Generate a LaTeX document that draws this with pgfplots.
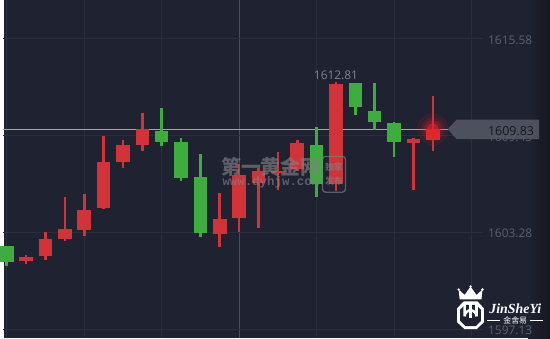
\documentclass[border=0pt]{standalone}
\usepackage{pgfplots}
\pgfplotsset{compat=1.18}
\usepackage{pgfplotstable}
\usepackage{fontspec}
\setmainfont{Open Sans}
\newfontfamily\cjk{Noto Sans CJK SC}
\newfontfamily\monof{Liberation Mono}
\newfontfamily\seriff{Liberation Serif}
\definecolor{bg}{RGB}{31,34,48}
\definecolor{bgdark}{RGB}{20,22,32}
\definecolor{gridc}{RGB}{42,46,60}
\definecolor{vlinec}{RGB}{74,78,92}
\definecolor{pricel}{RGB}{165,165,170}
\definecolor{cred}{RGB}{209,51,56}
\definecolor{cgreen}{RGB}{61,174,62}
\definecolor{glowc}{RGB}{240,30,40}
\definecolor{lblc}{RGB}{92,96,112}
\definecolor{hic}{RGB}{128,130,140}
\definecolor{tagc}{RGB}{84,88,101}
\definecolor{tagtext}{RGB}{22,24,30}
\definecolor{wmc}{RGB}{128,128,132}

% index open high low close
\pgfplotstableread{
i open high low close
1 1601.46 1601.88 1601.27 1601.75
2 1601.77 1603.33 1601.52 1602.89
3 1602.90 1605.53 1602.72 1603.51
4 1603.47 1605.72 1603.09 1604.71
5 1604.86 1609.43 1604.79 1607.73
6 1607.75 1609.12 1607.37 1608.86
7 1608.86 1610.88 1608.44 1609.85
11 1603.16 1605.78 1602.34 1604.14
12 1604.23 1607.61 1603.33 1606.91
13 1606.45 1607.35 1603.56 1607.18
14 1607.04 1608.36 1605.99 1607.16
15 1607.29 1609.12 1607.16 1608.93
17 1606.35 1612.81 1605.92 1612.70
21 1608.95 1609.30 1605.99 1609.24
22 1609.13 1611.95 1608.44 1609.83
}\redtab

\pgfplotstableread{
i open high low close
0 1602.45 1602.45 1601.14 1601.44
8 1609.74 1611.19 1608.76 1609.01
9 1608.99 1609.30 1606.55 1606.72
10 1606.79 1608.23 1603.03 1603.28
16 1608.86 1610.00 1605.55 1606.35
18 1612.77 1612.77 1610.71 1611.27
19 1611.00 1612.77 1609.76 1610.27
20 1610.25 1610.31 1608.06 1609.01
}\greentab

\pgfplotsset{
  candle/.style={forget plot, only marks, mark=none, mark size=0pt,
    mark options={draw=none, fill=none},
    error bars/y dir=both, error bars/y explicit, error bars/error mark=none},
  glow/.style={forget plot, only marks, mark=*, color=glowc, line width=0pt,
    mark options={draw opacity=0, fill=glowc, fill opacity=#1}},
}

\begin{document}
\begin{tikzpicture}
\fill[bg] (0,0) rectangle (550bp,340bp);
\shade[left color=bg, right color=bgdark] (528bp,0) rectangle (550bp,340bp);
\begin{axis}[at={(0,0)}, anchor=south west, scale only axis,
  width=550bp, height=340bp,
  xmin=-0.153846, xmax=28.051282, ymin=1596.584, ymax=1617.994,
  hide axis, clip=false]
% grid
\draw[gridc, line width=1bp] (axis cs:0,1596.584) -- (axis cs:0,1617.994);
\draw[gridc, line width=1bp] (axis cs:4,1596.584) -- (axis cs:4,1617.994);
\draw[gridc, line width=1bp] (axis cs:8,1596.584) -- (axis cs:8,1617.994);
\draw[gridc, line width=1bp] (axis cs:16,1596.584) -- (axis cs:16,1617.994);
\draw[gridc, line width=1bp] (axis cs:20,1596.584) -- (axis cs:20,1617.994);
\draw[gridc, line width=1bp] (axis cs:24,1596.584) -- (axis cs:24,1617.994);
\draw[vlinec, line width=1bp] (axis cs:12,1596.584) -- (axis cs:12,1617.994);
\draw[gridc, line width=1bp] (axis cs:-0.2,1615.58) -- (axis cs:24.6,1615.58);
\draw[gridc, line width=1bp] (axis cs:-0.2,1609.43) -- (axis cs:24.6,1609.43);
\draw[gridc, line width=1bp] (axis cs:-0.2,1603.28) -- (axis cs:24.6,1603.28);
\draw[gridc, line width=1bp] (axis cs:-0.2,1597.13) -- (axis cs:24.6,1597.13);
% last price line
\addplot[forget plot, pricel, line width=0.9bp, mark=none] coordinates {(-0.2,1609.83) (22.77,1609.83)};
% wicks
\addplot[candle, error bars/error bar style={line width=2.6bp, draw=cred}]
  table[x=i, y expr={0.5*(\thisrow{high}+\thisrow{low})}, y error expr={0.5*(\thisrow{high}-\thisrow{low})}] {\redtab};
\addplot[candle, error bars/error bar style={line width=2.6bp, draw=cgreen}]
  table[x=i, y expr={0.5*(\thisrow{high}+\thisrow{low})}, y error expr={0.5*(\thisrow{high}-\thisrow{low})}] {\greentab};
% bodies
\addplot[candle, error bars/error bar style={line width=13.6bp, draw=cred}]
  table[x=i, y expr={0.5*(\thisrow{open}+\thisrow{close})}, y error expr={0.5*abs(\thisrow{open}-\thisrow{close})}] {\redtab};
\addplot[candle, error bars/error bar style={line width=13.6bp, draw=cgreen}]
  table[x=i, y expr={0.5*(\thisrow{open}+\thisrow{close})}, y error expr={0.5*abs(\thisrow{open}-\thisrow{close})}] {\greentab};
% glow on last candle
\addplot[glow=0.10, mark size=16bp] coordinates {(22,1609.83)};
\addplot[glow=0.14, mark size=12bp] coordinates {(22,1609.83)};
\addplot[glow=0.22, mark size=9bp] coordinates {(22,1609.83)};
\addplot[glow=0.55, mark size=6bp] coordinates {(22,1609.83)};
\end{axis}

\begin{scope}[x=1bp, y=-1bp, shift={(0bp,340bp)}]
\fontsize{12bp}{14bp}\selectfont
% axis labels
\node[lblc, anchor=west, inner sep=0] at (487.5,40) {1615.58};
\node[lblc, anchor=west, inner sep=0] at (487.5,138) {1609.43};
\node[lblc, anchor=west, inner sep=0] at (487.5,234.5) {1603.28};
\node[lblc, anchor=west, inner sep=0] at (487.5,332) {1597.13};
% price tag
\fill[tagc, fill opacity=0.88] (447,129.5) -- (456,120) -- (539,120) -- (539,139.5) -- (456,139.5) -- cycle;
\node[tagtext, anchor=west, inner sep=0, font={\fontsize{12.5bp}{14bp}\selectfont}] at (487.5,131) {1609.83};
% high label
\node[hic, inner sep=0] at (334.5,75.5) {1612.81};
% watermark
\begin{scope}[opacity=0.65]
\node[wmc, inner sep=0, font={\cjk\bfseries\fontsize{20bp}{20bp}\selectfont}] at (269,168) {第一黄金网};
\node[wmc, inner sep=0, font={\monof\bfseries\fontsize{12.5bp}{12.5bp}\selectfont}] at (269,183) {www.dyhjw.com};
\draw[wmc, line width=1.3bp, rounded corners=3bp] (321,157) rectangle (344,193);
\node[wmc, inner sep=0, font={\cjk\bfseries\fontsize{9bp}{9bp}\selectfont}] at (332.5,168) {独家};
\node[wmc, inner sep=0, font={\cjk\bfseries\fontsize{9bp}{9bp}\selectfont}] at (332.5,182) {发布};
\end{scope}
% logo
\fill[white] (459,301) -- (458,291) -- (464,296.5) -- (470,288) -- (476,296.5) -- (482,291) -- (481,301) -- cycle;
\fill[white] (458,291) circle (1.3) (470,288) circle (1.3) (482,291) circle (1.3);
\fill[white] (463,303) -- (477,303) -- (483.5,310) -- (483.5,324) -- (476,331) -- (464,331) -- (456.5,324) -- (456.5,310) -- cycle;
\fill[bg] (464.5,306.5) -- (475.5,306.5) -- (480.5,311.5) -- (480.5,322.5) -- (475,328) -- (465,328) -- (459.5,322.5) -- (459.5,311.5) -- cycle;
\draw[white, line width=2.6bp] (464,306) -- (464,318) arc[start angle=180, end angle=360, radius=6] -- (476,306);
\draw[white, line width=2.4bp] (470,304) -- (470,320);
\node[white, inner sep=0, font={\seriff\bfseries\itshape\fontsize{14bp}{14bp}\selectfont}] at (515,310) {JinSheYi};
\node[white, inner sep=0, font={\cjk\fontsize{8bp}{8bp}\selectfont}] at (515,322.5) {金舍易};
\draw[white, line width=0.8bp] (487,322.5) -- (500,322.5) (530,322.5) -- (543,322.5);
\end{scope}
\end{tikzpicture}
\end{document}
